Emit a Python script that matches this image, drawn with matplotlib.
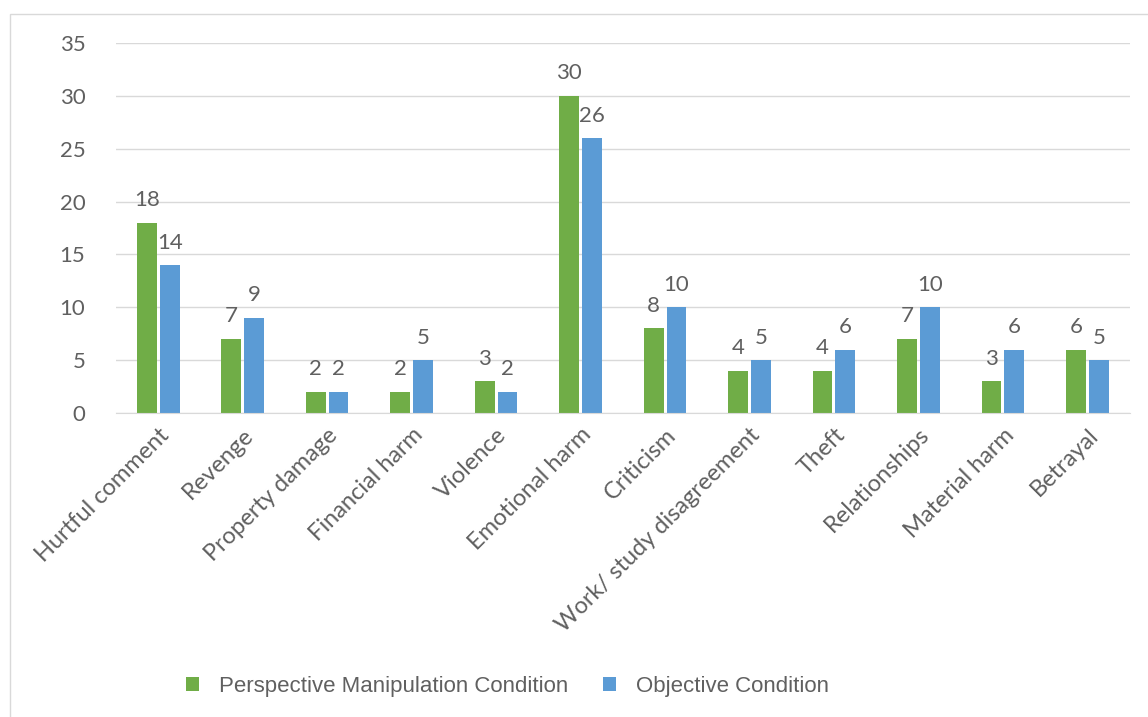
import numpy as np
import matplotlib.pyplot as plt
from matplotlib.patches import Rectangle

categories = ["Hurtful comment", "Revenge", "Property damage", "Financial harm",
              "Violence", "Emotional harm", "Criticism", "Work/ study disagreement",
              "Theft", "Relationships", "Material harm", "Betrayal"]
perspective = [18, 7, 2, 2, 3, 30, 8, 4, 4, 7, 3, 6]
objective = [14, 9, 2, 5, 2, 26, 10, 5, 6, 10, 6, 5]
yticks = [0, 5, 10, 15, 20, 25, 30, 35]

green = "#70AD47"
blue = "#5B9BD5"
grey = "#606060"

fig = plt.figure(figsize=(11.48, 7.17), dpi=100)
fig.patches.append(Rectangle((0.009, -0.01), 1.0, 0.99, transform=fig.transFigure,
                             fill=False, edgecolor="#d9d9d9", lw=1))
ax = fig.add_axes([0.101, 0.424, 0.883, 0.516])

x = np.arange(len(categories))
w = 0.235
off = 0.135
b1 = ax.bar(x - off, perspective, w, color=green, label="Perspective Manipulation Condition")
b2 = ax.bar(x + off, objective, w, color=blue, label="Objective Condition")

for bars, vals in ((b1, perspective), (b2, objective)):
    for r, v in zip(bars, vals):
        ax.annotate(str(v), (r.get_x() + r.get_width() / 2, v), xytext=(0, 9),
                    textcoords="offset points", ha="center", va="bottom",
                    fontsize=16, color=grey, family="Lato")

ax.set_xlim(-0.5, len(categories) - 0.5)
ax.set_ylim(0, 35)
ax.set_yticks(yticks)
ax.set_xticks(x)
ax.set_xticklabels(categories, rotation=45, ha="right", rotation_mode="anchor",
                   fontsize=17, color=grey, family="Lato")
ax.tick_params(axis="y", labelsize=16, labelcolor=grey, length=0, pad=22)
ax.tick_params(axis="x", length=0, pad=8)
for lab in ax.get_yticklabels():
    lab.set_family("Lato")
ax.grid(axis="y", color="#d9d9d9", lw=1)
ax.set_axisbelow(True)
for s in ["top", "right", "left"]:
    ax.spines[s].set_visible(False)
ax.spines["bottom"].set_color("#d9d9d9")

fig.legend(handles=[b1, b2], loc="center", bbox_to_anchor=(0.442, 0.043), ncol=2,
           frameon=False, handlelength=0.55, handleheight=0.55, handletextpad=0.9,
           columnspacing=1.6, labelcolor=grey, prop={"family": "Liberation Sans", "size": 16})

fig.savefig("out.png", dpi=100)
